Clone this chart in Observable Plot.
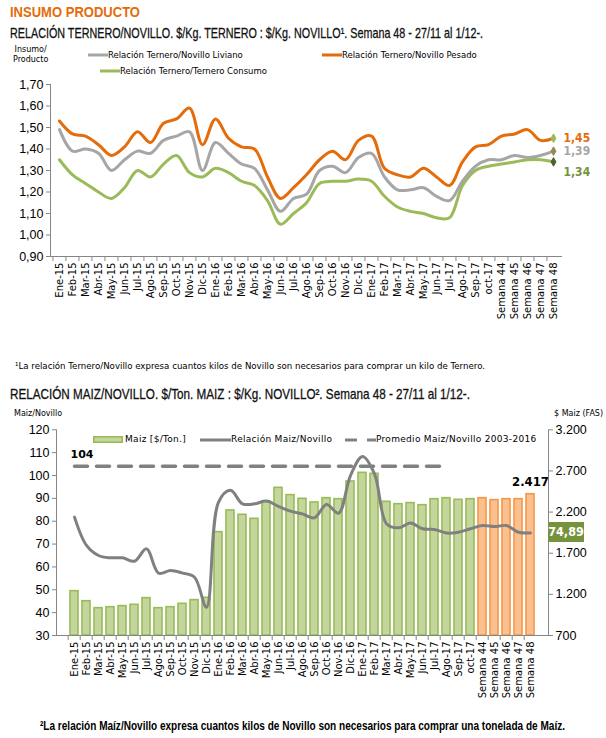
<!DOCTYPE html>
<html><head><meta charset="utf-8">
<script src="https://cdn.jsdelivr.net/npm/d3@7"></script>
<script src="https://cdn.jsdelivr.net/npm/@observablehq/plot@0.6"></script>
<style>
html,body{margin:0;padding:0;background:#fff}
#page{position:relative;width:606px;height:738px;overflow:hidden;font-family:"DejaVu Sans",sans-serif;color:#000}
.abs{position:absolute;white-space:nowrap;line-height:1}
.h1{font-family:"Liberation Sans",sans-serif;font-weight:bold;color:#E46C0A;font-size:14.5px}
.tit{font-family:"Liberation Sans",sans-serif;font-size:15px;color:#111;-webkit-text-stroke:0.3px #111}
.axt{font-size:8px;text-align:center;line-height:1.25}
.leg{font-size:8.5px;display:flex;align-items:center}
.leg svg{display:block}
.fn1{font-size:8.5px}
.fn2{font-family:"Liberation Sans",sans-serif;font-weight:bold;font-size:12px}
svg.plot{position:absolute;left:0}
</style></head><body>
<div id="page"></div>
<script>
// ---------- Datos: gráfico 1 ----------
const categorias = ["Ene-15","Feb-15","Mar-15","Abr-15","May-15","Jun-15","Jul-15","Ago-15","Sep-15","Oct-15","Nov-15","Dic-15",
  "Ene-16","Feb-16","Mar-16","Abr-16","May-16","Jun-16","Jul-16","Ago-16","Sep-16","Oct-16","Nov-16","Dic-16",
  "Ene-17","Feb-17","Mar-17","Abr-17","May-17","Jun-17","Jul-17","Ago-17","Sep-17","oct-17",
  "Semana 44","Semana 45","Semana 46","Semana 47","Semana 48"];
const liviano = [1.49,1.39,1.40,1.38,1.30,1.35,1.39,1.38,1.44,1.46,1.48,1.30,1.43,1.38,1.33,1.31,1.21,1.11,1.17,1.19,1.30,1.32,1.29,1.36,1.38,1.27,1.21,1.21,1.22,1.18,1.16,1.25,1.32,1.35,1.35,1.37,1.36,1.37,1.39];
const pesado  = [1.53,1.47,1.46,1.42,1.37,1.41,1.48,1.43,1.52,1.54,1.59,1.42,1.54,1.45,1.41,1.40,1.27,1.17,1.22,1.28,1.35,1.39,1.35,1.44,1.46,1.31,1.28,1.27,1.31,1.27,1.23,1.34,1.41,1.42,1.46,1.47,1.49,1.44,1.45];
const consumo = [1.35,1.28,1.24,1.20,1.17,1.22,1.30,1.27,1.33,1.37,1.29,1.27,1.31,1.29,1.25,1.23,1.16,1.05,1.10,1.15,1.24,1.25,1.25,1.26,1.25,1.18,1.13,1.11,1.10,1.08,1.08,1.23,1.30,1.32,1.33,1.34,1.35,1.35,1.34];
const ticksTernero = [0.90,1.00,1.10,1.20,1.30,1.40,1.50,1.60,1.70];

// ---------- Datos: gráfico 2 ----------
const maiz = [1239,1117,1032,1044,1057,1073,1154,1032,1044,1085,1130,1158,1956,2220,2167,2118,2329,2495,2406,2361,2317,2369,2357,2572,2677,2665,2325,2296,2309,2284,2357,2369,2349,2357,2369,2345,2357,2357,2417];
const relacionMaiz = [81.8,69.4,65.0,64.0,64.0,62.5,67.9,57.3,58.4,57.3,55.5,42.4,88.3,93.5,87.6,87.6,88.8,86.5,84.4,83.2,81.5,87.3,83.5,100.0,108.3,100.7,78.9,77.1,79.2,76.7,76.4,74.8,75.2,76.7,78.1,77.7,78.1,75.2,74.89];
const promedio = 104;
const promedioHasta = "Ago-17";
const ticksMaizNovillo = [30,40,50,60,70,80,90,100,110,120];
const ticksMaiz = [700,1200,1700,2200,2700,3200];

// ---------- helpers ----------
const coma = d => d3.format(".2f")(d).replace(".", ",");
const miles = d => d3.format(",")(Math.round(d)).replace(/,/g, ".");
const MIN_IZQ = 30, MAX_IZQ = 120, MIN_DER = 700, MAX_DER = 3200;
const aIzq = v => MIN_IZQ + (v - MIN_DER) / (MAX_DER - MIN_DER) * (MAX_IZQ - MIN_IZQ);
const aDer = v => MIN_DER + (v - MIN_IZQ) / (MAX_IZQ - MIN_IZQ) * (MAX_DER - MIN_DER);
const gris = "#868686";

const page = document.getElementById("page");
function add(html, cls, left, top, extra="") {
  const d = document.createElement("div");
  d.className = "abs " + cls;
  d.style.left = left + "px"; d.style.top = top + "px";
  if (extra) d.style.cssText += extra;
  d.innerHTML = html;
  page.appendChild(d);
  return d;
}
function fitWidth(el, w) {
  const r = el.getBoundingClientRect().width;
  if (r > 0) { el.style.transformOrigin = "0 50%"; el.style.transform = `scaleX(${w / r})`; }
}
const lineaSw = (color, w=20, dash="") => `<svg width="${w}" height="6"><line x1="0" x2="${w}" y1="3" y2="3" stroke="${color}" stroke-width="3" ${dash ? `stroke-dasharray="${dash}"` : ""}/></svg>`;

// ---------- Encabezados ----------
fitWidth(add("INSUMO PRODUCTO", "h1", 10, 5), 130);
fitWidth(add("RELACIÓN TERNERO/NOVILLO. $/Kg. TERNERO : $/Kg. NOVILLO¹. Semana 48 - 27/11 al 1/12-.", "tit", 10, 25), 473);
add("Insumo/<br>Producto", "axt", 13, 45);
add(lineaSw("#A6A6A6") + "<span>Relación Ternero/Novillo Liviano</span>", "leg", 88, 51);
add(lineaSw("#E46C0A") + "<span>Relación Ternero/Novillo Pesado</span>", "leg", 322, 51);
add(lineaSw("#9BBB59") + "<span>Relación Ternero/Ternero Consumo</span>", "leg", 100, 67);

// ---------- Gráfico 1 ----------
const TOP1 = 75;
const W = 606, ML1 = 50, MR1 = 45;
const paso1 = (W - ML1 - MR1) / categorias.length;
const fin = [
  {v: pesado.at(-1), color: "#E46C0A", marca: "#9BBB59", dy: 0},
  {v: liviano.at(-1), color: "#A6A6A6", marca: "#948A54", dy: 0},
  {v: consumo.at(-1), color: "#76923C", marca: "#4F6228", dy: 10}
];
const ultimo = categorias.at(-1);
const p1 = Plot.plot({
  width: W, height: 275,
  marginLeft: ML1, marginRight: MR1, marginTop: 9, marginBottom: 94,
  x: {type: "point", domain: categorias, padding: 0.5},
  y: {domain: [0.9, 1.7]},
  style: {fontFamily: "DejaVu Sans", background: "transparent", overflow: "visible"},
  marks: [
    Plot.axisY({ticks: ticksTernero, tickFormat: coma, tickSize: 4, stroke: gris, fill: "#000", fontSize: 12.5, fontFamily: "Liberation Sans", tickPadding: 3, label: null}),
    Plot.axisX({tickRotate: -90, tickSize: 0, fill: "#000", fontSize: 10, tickPadding: 6, label: null}),
    Plot.axisX({tickSize: 5, stroke: gris, tickFormat: () => "", dx: -paso1 / 2, label: null}),
    Plot.frame({anchor: "left", stroke: gris}),
    Plot.frame({anchor: "bottom", stroke: gris}),
    Plot.line(consumo, {x: categorias, y: d => d, stroke: "#9BBB59", strokeWidth: 3, curve: "catmull-rom"}),
    Plot.line(liviano, {x: categorias, y: d => d, stroke: "#A6A6A6", strokeWidth: 3, curve: "catmull-rom"}),
    Plot.line(pesado, {x: categorias, y: d => d, stroke: "#E46C0A", strokeWidth: 3, curve: "catmull-rom"}),
    Plot.dot(fin, {x: () => ultimo, y: "v", symbol: "diamond", r: 2.6, fill: "marca", stroke: "marca", strokeWidth: 1}),
    Plot.text(fin, {x: () => ultimo, y: "v", text: d => coma(d.v), fill: "color", dx: 10, textAnchor: "start", fontWeight: "bold", fontSize: 12, fontFamily: "DejaVu Sans Condensed"})
  ]
});
p1.classList.add("plot");
p1.style.top = TOP1 + "px";
page.appendChild(p1);
// desplazamiento de la etiqueta verde
p1.querySelectorAll("g[aria-label=text] text").forEach((t, i) => { if (fin[i] && fin[i].dy) t.setAttribute("dy", fin[i].dy); });

fitWidth(add("¹La relación Ternero/Novillo expresa cuantos kilos de Novillo son necesarios para comprar un kilo de Ternero.", "fn1", 15, 362), 470);

// ---------- Gráfico 2 ----------
fitWidth(add("RELACIÓN MAIZ/NOVILLO. $/Ton. MAIZ : $/Kg. NOVILLO². Semana 48 - 27/11 al 1/12-.", "tit", 10, 386), 460);
add("Maiz/Novillo", "axt", 14, 409);
add("$ Maiz (FAS)", "axt", 554, 409);

const TOP2 = 420;
const ML2 = 56, MR2 = 58;
const paso2 = (W - ML2 - MR2) / (categorias.length - 0.33 + 2 * 0.17);
const idxProm = categorias.indexOf(promedioHasta);
const colorBar = categorias.map(c => c.startsWith("Semana") ? "#FAC090" : "#C3D69B");
const colorBorde = categorias.map(c => c.startsWith("Semana") ? "#F79646" : "#9BBB59");
const p2 = Plot.plot({
  width: W, height: 290,
  marginLeft: ML2, marginRight: MR2, marginTop: 9.3, marginBottom: 75,
  x: {type: "band", domain: categorias, paddingInner: 0.33, paddingOuter: 0.17},
  y: {domain: [MIN_IZQ, MAX_IZQ]},
  color: {type: "identity"},
  style: {fontFamily: "DejaVu Sans", background: "transparent", overflow: "visible"},
  marks: [
    Plot.barY(maiz, {x: categorias, y1: MIN_IZQ, y2: d => aIzq(d), fill: colorBar, stroke: colorBorde, strokeWidth: 1.6}),
    Plot.line(categorias.slice(0, idxProm + 1), {x: d => d, y: () => promedio, stroke: "#808080", strokeWidth: 3.5, strokeDasharray: "13,9"}),
    Plot.line(relacionMaiz, {x: categorias, y: d => d, stroke: "#808080", strokeWidth: 3, curve: "catmull-rom"}),
    Plot.axisY({anchor: "left", ticks: ticksMaizNovillo, tickSize: 4, stroke: gris, fill: "#000", fontSize: 12.5, fontFamily: "Liberation Sans", tickPadding: 3, label: null}),
    Plot.axisY(ticksMaiz.map(aIzq), {anchor: "right", tickFormat: d => miles(aDer(d)), tickSize: 4, stroke: gris, fill: "#000", fontSize: 12.5, fontFamily: "Liberation Sans", tickPadding: 3, label: null}),
    Plot.axisX({tickRotate: -90, tickSize: 0, fill: "#000", fontSize: 10, tickPadding: 6, label: null}),
    Plot.axisX({tickSize: 5, stroke: gris, tickFormat: () => "", dx: -paso2 / 2, label: null}),
    Plot.frame({anchor: "left", stroke: gris}),
    Plot.frame({anchor: "right", stroke: gris}),
    Plot.frame({anchor: "bottom", stroke: gris}),
    Plot.text([promedio], {x: () => categorias[0], y: d => d, text: d => String(d), dy: -12, dx: -4, textAnchor: "start", fontWeight: "bold", fontSize: 11}),
    Plot.text([maiz.at(-1)], {x: () => ultimo, y: d => aIzq(d), text: d => miles(d), dy: -12, fontWeight: "bold", fontSize: 13, fontFamily: "DejaVu Sans Condensed"})
  ]
});
p2.classList.add("plot");
p2.style.top = TOP2 + "px";
page.appendChild(p2);

// leyenda gráfico 2
add(`<svg width="30" height="7"><rect x="0.8" y="0.8" width="28.4" height="5.4" fill="#C3D69B" stroke="#9BBB59" stroke-width="1.6"/></svg><span style="margin-left:2px">Maiz [$/Ton.]</span>`, "leg", 93, 435, "font-size:9px;letter-spacing:0.3px");
add(lineaSw("#808080", 31) + "<span>Relación Maiz/Novillo</span>", "leg", 200, 435, "font-size:9px;letter-spacing:0.3px");
add(lineaSw("#808080", 31, "12,10") + "<span>Promedio Maiz/Novillo 2003-2016</span>", "leg", 345, 435, "font-size:9px;letter-spacing:0.3px");

// caja valor final relación
const yFin = p2.scale("y").apply(relacionMaiz.at(-1));
add(coma(relacionMaiz.at(-1)), "", 548, TOP2 + yFin - 10, "width:36px;height:20px;background:#76923C;color:#fff;font-weight:bold;font-size:12.5px;font-family:'DejaVu Sans Condensed';display:flex;align-items:center;justify-content:center");

fitWidth(add("²La relación Maíz/Novillo expresa cuantos kilos de Novillo son necesarios para comprar una tonelada de Maíz.", "fn2", 40, 720), 525);
</script>
</body></html>
